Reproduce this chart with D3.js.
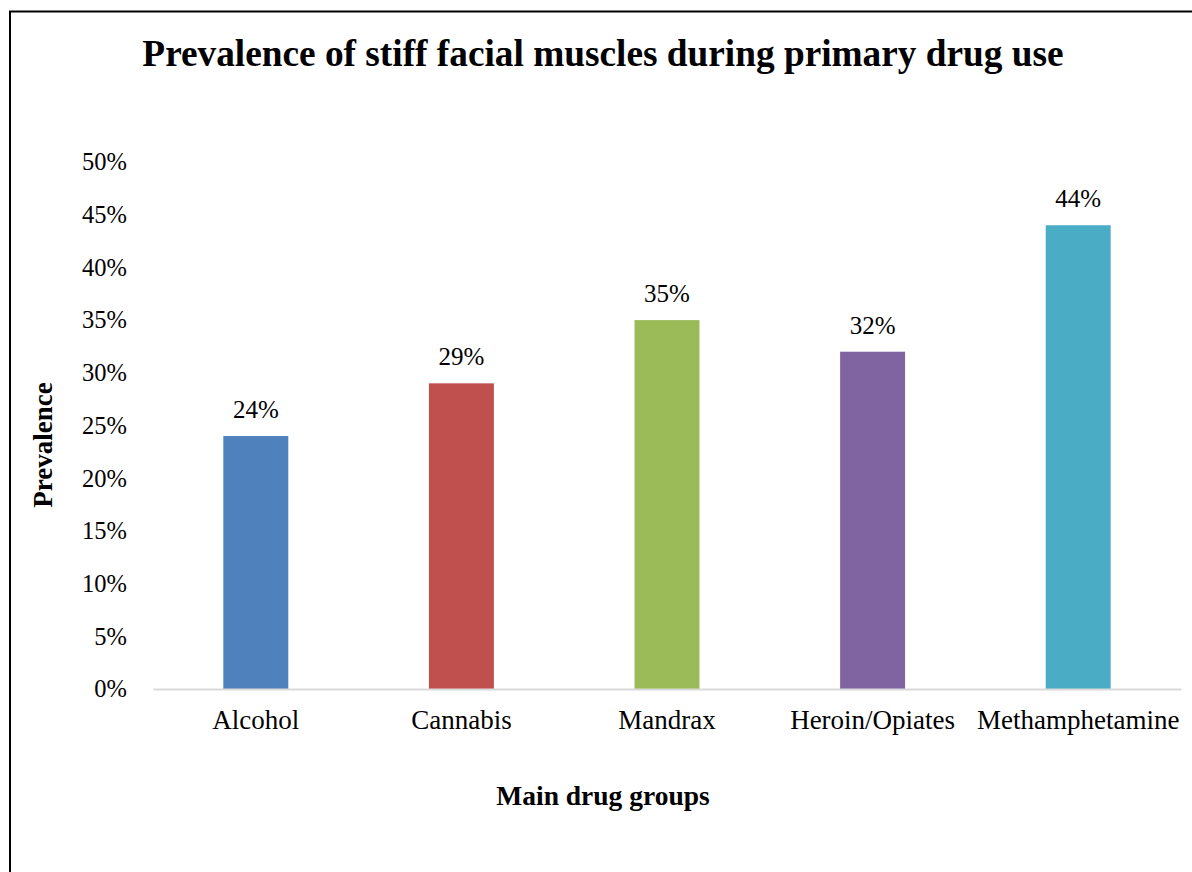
<!DOCTYPE html>
<html>
<head>
<meta charset="utf-8">
<script src="https://cdn.jsdelivr.net/npm/d3@7"></script>
<style>
  html, body { margin: 0; padding: 0; background: #fff; }
  svg { display: block; }
  text { font-family: "Liberation Serif", "Times New Roman", serif; fill: #000; }
</style>
</head>
<body>
<svg id="chart" width="1192" height="872"></svg>
<script>
// Drug groups and the share of users reporting stiff facial muscles
const categories = ["Alcohol", "Cannabis", "Mandrax", "Heroin/Opiates", "Methamphetamine"];
const prevalence = [0.24, 0.29, 0.35, 0.32, 0.44];
const barColors = ["#4F81BD", "#C0504D", "#9BBB59", "#8064A2", "#4BACC6"];
const yTicks = [0, 0.05, 0.10, 0.15, 0.20, 0.25, 0.30, 0.35, 0.40, 0.45, 0.50];

const svg = d3.select("#chart");
const W = 1192, H = 872;
const plot = { left: 153, right: 1181, top: 162, bottom: 689 };

// outer chart frame
svg.append("rect")
  .attr("x", 10).attr("y", 11.5)
  .attr("width", W + 20).attr("height", H + 20)
  .attr("fill", "none").attr("stroke", "#000").attr("stroke-width", 2);

const x = d3.scaleBand()
  .domain(categories)
  .range([plot.left, plot.right])
  .paddingInner(0.684).paddingOuter(0.342);

const y = d3.scaleLinear().domain([0, 0.5]).range([plot.bottom, plot.top]);
const pct = d3.format(".0%");

// y axis labels (no axis line, no ticks)
const yAxis = svg.append("g")
  .attr("transform", `translate(${plot.left},0)`)
  .call(d3.axisLeft(y).tickValues(yTicks).tickFormat(pct).tickSize(0).tickPadding(26));
yAxis.select(".domain").remove();
yAxis.selectAll("text")
  .attr("font-size", 24.5).attr("font-family", "Liberation Serif").attr("fill", "#000");

// bars
svg.append("g").selectAll("rect")
  .data(categories)
  .join("rect")
  .attr("x", d => x(d))
  .attr("width", x.bandwidth())
  .attr("y", (d, i) => y(prevalence[i]))
  .attr("height", (d, i) => plot.bottom - y(prevalence[i]))
  .attr("fill", (d, i) => barColors[i]);

// baseline + category labels
const xAxis = svg.append("g")
  .attr("transform", `translate(0,${plot.bottom})`)
  .call(d3.axisBottom(x).tickSize(0).tickPadding(21).tickSizeOuter(0));
xAxis.select(".domain")
  .attr("stroke", "#D9D9D9").attr("stroke-width", 2);
xAxis.selectAll("text")
  .attr("font-size", 27).attr("font-family", "Liberation Serif").attr("fill", "#000");

// value labels
svg.append("g").selectAll("text")
  .data(categories)
  .join("text")
  .attr("x", d => x(d) + x.bandwidth() / 2)
  .attr("y", (d, i) => y(prevalence[i]) - 18)
  .attr("text-anchor", "middle")
  .attr("font-size", 25)
  .text((d, i) => pct(prevalence[i]));

// title
svg.append("text")
  .attr("x", 603).attr("y", 66)
  .attr("text-anchor", "middle")
  .attr("font-size", 37.3).attr("font-weight", "bold")
  .text("Prevalence of stiff facial muscles during primary drug use");

// axis titles
svg.append("text")
  .attr("x", 603).attr("y", 805)
  .attr("text-anchor", "middle")
  .attr("font-size", 27.5).attr("font-weight", "bold")
  .text("Main drug groups");

svg.append("text")
  .attr("transform", "translate(52,445) rotate(-90)")
  .attr("text-anchor", "middle")
  .attr("font-size", 27).attr("font-weight", "bold")
  .text("Prevalence");
</script>
</body>
</html>
